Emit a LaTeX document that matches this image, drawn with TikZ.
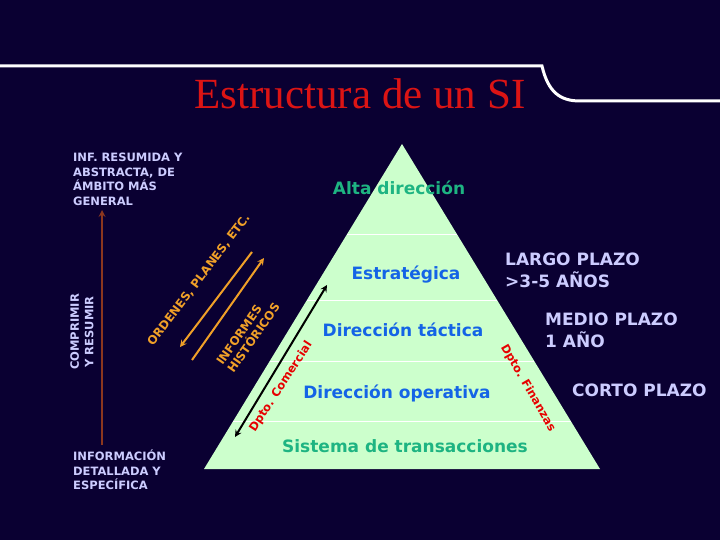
\documentclass[tikz,border=0pt]{standalone}
\usepackage{fontspec}
\setmainfont{DejaVu Sans}
\newfontfamily\titlefont{Liberation Serif}
\usetikzlibrary{calc}
\definecolor{fondo}{RGB}{10,0,50}
\definecolor{verde}{RGB}{204,255,204}
\definecolor{azul}{RGB}{20,100,230}
\definecolor{turquesa}{RGB}{30,180,130}
\definecolor{lila}{RGB}{204,204,255}
\definecolor{naranja}{RGB}{240,160,40}
\definecolor{rojo}{RGB}{230,0,0}
\definecolor{marron}{RGB}{140,55,30}
\definecolor{titulorojo}{RGB}{220,20,20}

\begin{document}
\begin{tikzpicture}[x=1pt, y=-1pt, >=stealth,
    every node/.style={inner sep=0pt},
    nivel/.style={anchor=base, text=azul, font=\fontsize{17}{22}\selectfont\bfseries},
    plazo/.style={text=lila, align=left, font=\fontsize{17}{22}\selectfont\bfseries},
    nota/.style={text=lila, align=left, font=\fontsize{11.5}{14.5}\selectfont\bfseries},
    flujo/.style={text=naranja, align=left, font=\fontsize{11.8}{13.5}\selectfont\bfseries},
    dpto/.style={text=rojo, font=\fontsize{11.5}{13}\selectfont\bfseries}]
  \fill[fondo] (0,0) rectangle (720,540);
  \useasboundingbox (0,0) rectangle (720,540);
  \draw[white, line width=3pt] (0,66) -- (542,66) .. controls (548,92) and (560,101) .. (580,101) -- (720,101);
  \node[anchor=base, text=titulorojo, font=\titlefont\fontsize{43}{43}\selectfont] (titulo) at (360,109) {Estructura de un SI};

  \coordinate (cima) at (402,144);
  \coordinate (izq) at (204,469);
  \coordinate (der) at (600,469);
  \fill[verde] (cima) -- (izq) -- (der) -- cycle;
  \foreach \t in {0.277, 0.48, 0.668, 0.852}
    \draw[white, line width=0.8pt] ($(cima)!\t!(izq)$) -- ($(cima)!\t!(der)$);

  \node[nivel, text=turquesa] (alta) at (399,195) {Alta dirección};
  \node[nivel] (estrategica) at (406,279) {Estratégica};
  \node[nivel] (tactica) at (403,336) {Dirección táctica};
  \node[nivel] (operativa) at (397,398) {Dirección operativa};
  \node[nivel, text=turquesa] (sistema) at (405,452) {Sistema de transacciones};

  \node[plazo, anchor=north west] (largo) at (505,253) {LARGO PLAZO\\>3-5 AÑOS};
  \node[plazo, anchor=north west] (medio) at (545,313) {MEDIO PLAZO\\1 AÑO};
  \node[plazo, anchor=base west] (corto) at (572,396) {CORTO PLAZO};

  \node[nota, anchor=north west] (general) at (73,153) {INF. RESUMIDA Y\\ABSTRACTA, DE\\ÁMBITO MÁS\\GENERAL};
  \node[nota, anchor=north west] (detalle) at (73,450) {INFORMACIÓN\\DETALLADA Y\\ESPECÍFICA};
  \node[nota, align=center, rotate=90] (comprimir) at (82,332) {COMPRIMIR\\Y RESUMIR};
  \coordinate (sube1) at (102,445);
  \coordinate (sube2) at (102,210);
  \draw[->, marron, line width=2pt] (sube1) -- (sube2);

  \coordinate (orden1) at (252,252);
  \coordinate (orden2) at (180,347);
  \coordinate (informe1) at (192,360);
  \coordinate (informe2) at (264,258);
  \draw[->, naranja, line width=2pt] (orden1) -- (orden2);
  \draw[->, naranja, line width=2pt] (informe1) -- (informe2);
  \node[flujo, rotate=53] (ordenes) at (199,280) {ORDENES, PLANES, ETC.};
  \node[flujo, rotate=55] (informes) at (248,334) {INFORMES\\HISTÓRICOS};

  \coordinate (com1) at (235,437);
  \coordinate (com2) at (327,285);
  \draw[<->, black, line width=2pt] (com1) -- (com2);
  \node[dpto, rotate=57] (comercial) at (281,387) {Dpto. Comercial};
  \node[dpto, rotate=-60] (finanzas) at (528,388) {Dpto. Finanzas};
\end{tikzpicture}
\end{document}
